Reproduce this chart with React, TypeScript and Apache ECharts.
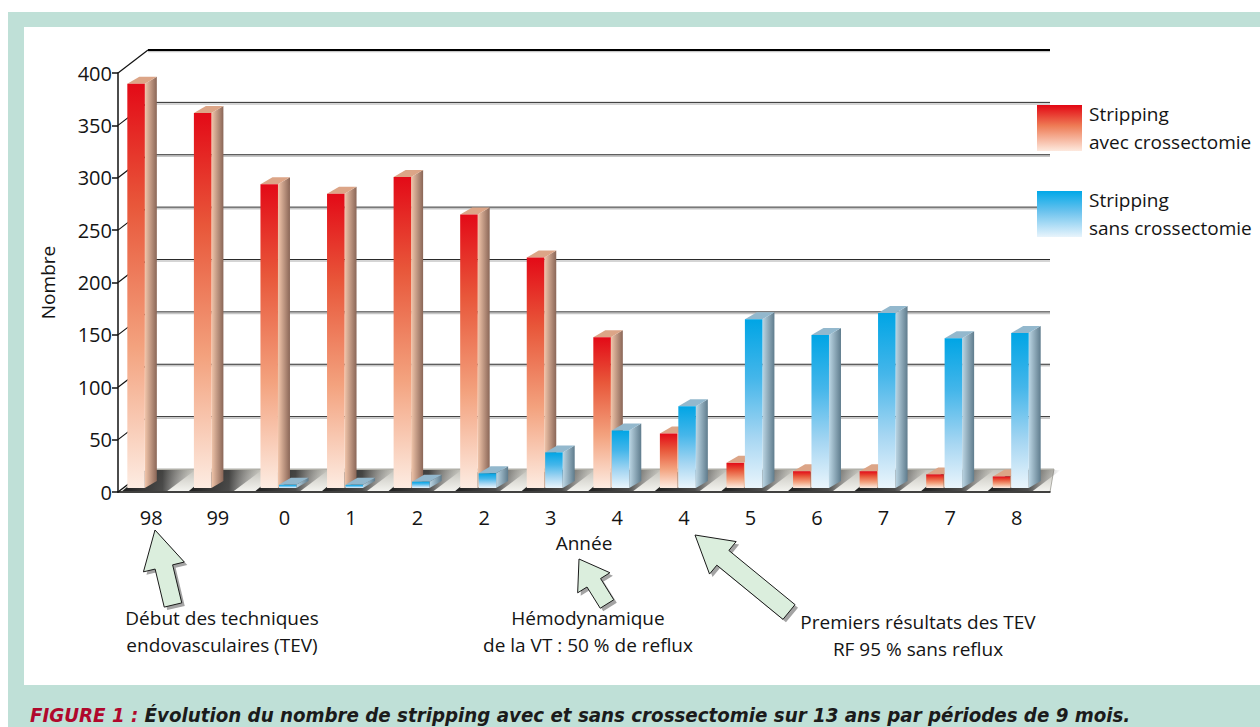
import React, { useEffect, useRef } from "react";
import * as echarts from "echarts";

// ---------- data ----------
const CATEGORIES = ["98", "99", "0", "1", "2", "2", "3", "4", "4", "5", "6", "7", "7", "8"];
const AVEC = [386, 358, 290, 281, 297, 261, 220, 144, 52, 24, 16, 16, 13, 11];
const SANS = [0, 0, 3, 3, 6, 14, 34, 55, 78, 161, 146, 167, 143, 148];
const Y_TICKS = [0, 50, 100, 150, 200, 250, 300, 350, 400];
const SERIES_NAMES = ["Stripping\navec crossectomie", "Stripping\nsans crossectomie"];
const CAPTION_LEAD = "FIGURE 1 :";
const CAPTION_TEXT = " Évolution du nombre de stripping avec et sans crossectomie sur 13 ans par périodes de 9 mois.";

// ---------- style / layout ----------
const FONT = "'Open Sans', 'Noto Sans', sans-serif";
const CAPTION_FONT = "'Liberation Sans Narrow', 'DejaVu Sans Condensed', 'Open Sans', sans-serif";
const INK = "#141414";
const DEPTH_X = 30;
const DEPTH_Y = 23;
const BAR_DX = 12;
const BAR_DY = 7;
const LIFT = 4;
const FACE_FRAC = 0.263;
const RED_OFF = -0.36;
const BLUE_OFF = -0.083;

const lin = (x2: number, y2: number, stops: [number, string][]) =>
  new echarts.graphic.LinearGradient(0, 0, x2, y2, stops.map(([offset, color]) => ({ offset, color })));

const redFront = lin(0, 1, [[0, "#e30a17"], [0.3, "#e8573a"], [0.65, "#f3a27e"], [1, "#fdece2"]]);
const redSide = lin(1, 0, [[0, "#f2c6ab"], [1, "#8a6657"]]);
const redTop = "#dca587";
const blueFront = lin(0, 1, [[0, "#00a5e5"], [0.35, "#45b6ea"], [0.7, "#a6d6f2"], [1, "#eaf5fc"]]);
const blueSide = lin(1, 0, [[0, "#bcd6e4"], [1, "#5f7c8d"]]);
const blueTop = "#93b8cd";
const floorGrad = lin(0, 1, [[0, "#c2c1b9"], [0.5, "#dcdbd5"], [1, "#f5f5f1"]]);
const shadowGrad = lin(1, 0, [[0, "rgba(20,20,20,0.95)"], [0.55, "rgba(35,35,35,0.8)"], [1, "rgba(90,90,90,0)"]]);
const legendRed = lin(0, 1, [[0, "#e30613"], [0.45, "#ee7b55"], [1, "#fde9de"]]);
const legendBlue = lin(0, 1, [[0, "#00a8e8"], [0.45, "#6cc3ee"], [1, "#e8f4fc"]]);

const makeBarRender = (offFrac: number, front: any, side: any, topFill: string) => (params: any, api: any) => {
  const i = api.value(0);
  const v = api.value(1);
  if (!(v > 0)) return null;
  const base = api.coord([i, 0]);
  const topP = api.coord([i, v]);
  const bw = api.size([1, 0])[0];
  const x = base[0] + offFrac * bw;
  const w = FACE_FRAC * bw;
  const y0 = base[1] - LIFT;
  const y1 = topP[1] - LIFT;
  return {
    type: "group",
    children: [
      {
        type: "polygon",
        shape: { points: [[x + w, y1], [x + w + BAR_DX, y1 - BAR_DY], [x + w + BAR_DX, y0 - BAR_DY], [x + w, y0]] },
        style: { fill: side },
      },
      {
        type: "polygon",
        shape: { points: [[x, y1], [x + BAR_DX, y1 - BAR_DY], [x + w + BAR_DX, y1 - BAR_DY], [x + w, y1]] },
        style: { fill: topFill },
      },
      { type: "rect", shape: { x, y: y1, width: w, height: y0 - y1 }, style: { fill: front } },
    ],
  };
};

const renderShadow = (params: any, api: any) => {
  const i = api.value(0);
  const base = api.coord([i, 0]);
  const bw = api.size([1, 0])[0];
  const xL = base[0] + RED_OFF * bw;
  const y0 = base[1] - 1;
  const yb = base[1] - DEPTH_Y + 1;
  return {
    type: "polygon",
    shape: { points: [[xL - 5, y0], [xL + 20, yb], [xL + 68, yb], [xL + 40, y0]] },
    style: { fill: shadowGrad },
  };
};

// back-wall grid lines and floor, placed from the value scale
const renderWall = (params: any, api: any) => {
  const v = api.value(1);
  const p = api.coord([0, v]);
  const bw = api.size([1, 0])[0];
  const xL = p[0] - bw / 2;
  const xR = xL + bw * CATEGORIES.length;
  const y = p[1];
  const isTop = v === Y_TICKS[Y_TICKS.length - 1];
  if (v === 0) {
    return {
      type: "polygon",
      shape: { points: [[xL, y], [xR, y], [xR + 4, y - DEPTH_Y], [xL + DEPTH_X, y - DEPTH_Y]] },
      style: { fill: floorGrad, stroke: "#9a9992", lineWidth: 0.8 },
    };
  }
  return {
    type: "group",
    children: [
      {
        type: "polyline",
        shape: { points: [[xL + DEPTH_X, y - DEPTH_Y + 1.5], [xR, y - DEPTH_Y + 1.5]] },
        style: { stroke: "rgba(0,0,0,0.22)", lineWidth: 1.5, fill: null },
      },
      {
        type: "polyline",
        shape: { points: [[xL + DEPTH_X, y - DEPTH_Y], [xR, y - DEPTH_Y]] },
        style: { stroke: isTop ? "#000" : "#2a2a2a", lineWidth: isTop ? 2 : 1, fill: null },
      },
    ],
  };
};

function arrowPts(tip: number[], tail: number[], headL: number, headW: number, shaftW: number) {
  const dx = tip[0] - tail[0];
  const dy = tip[1] - tail[1];
  const L = Math.hypot(dx, dy);
  const ux = dx / L, uy = dy / L;
  const nx = -uy, ny = ux;
  const hx = tip[0] - ux * headL, hy = tip[1] - uy * headL;
  return [
    tip,
    [hx + (nx * headW) / 2, hy + (ny * headW) / 2],
    [hx + (nx * shaftW) / 2, hy + (ny * shaftW) / 2],
    [tail[0] + (nx * shaftW) / 2, tail[1] + (ny * shaftW) / 2],
    [tail[0] - (nx * shaftW) / 2, tail[1] - (ny * shaftW) / 2],
    [hx - (nx * shaftW) / 2, hy - (ny * shaftW) / 2],
    [hx - (nx * headW) / 2, hy - (ny * headW) / 2],
  ];
}

const ARROWS = [
  { tip: [155, 530], tail: [173, 605], headL: 38, headW: 42, shaftW: 18 },
  { tip: [579, 559], tail: [607, 604], headL: 28, headW: 38, shaftW: 16 },
  { tip: [695, 535], tail: [789, 612], headL: 36, headW: 42, shaftW: 19 },
];

const NOTES = [
  { text: "Début des techniques\nendovasculaires (TEV)", x: 222, y: 631 },
  { text: "Hémodynamique\nde la VT : 50 % de reflux", x: 588, y: 631 },
  { text: "Premiers résultats des TEV\nRF 95 % sans reflux", x: 918, y: 635 },
];

function buildGraphics(chart: any) {
  const g: any[] = [];
  // side-wall diagonals at each tick, positioned through the chart's own scales
  Y_TICKS.forEach((v) => {
    const p = chart.convertToPixel({ gridIndex: 0 }, [0, v]);
    const bw = Math.abs(chart.convertToPixel({ gridIndex: 0 }, [1, v])[0] - p[0]);
    const xL = p[0] - bw / 2;
    g.push({
      type: "line",
      z: 1,
      silent: true,
      shape: { x1: xL, y1: p[1], x2: xL + DEPTH_X, y2: p[1] - DEPTH_Y },
      style: { stroke: "#111", lineWidth: 1.2 },
    });
  });
  ARROWS.forEach((a) => {
    const pts = arrowPts(a.tip, a.tail, a.headL, a.headW, a.shaftW);
    g.push({ type: "polygon", x: 3, y: 3, z: 10, shape: { points: pts }, style: { fill: "#a3a3a3" } });
    g.push({
      type: "polygon",
      z: 11,
      shape: { points: pts },
      style: { fill: "#dbeedd", stroke: "#1a1a1a", lineWidth: 1 },
    });
  });
  NOTES.forEach((n) => {
    g.push({
      type: "text",
      z: 11,
      style: {
        text: n.text,
        x: n.x,
        y: n.y,
        fill: INK,
        fontSize: 19,
        fontFamily: FONT,
        lineHeight: 27,
        align: "center",
        verticalAlign: "middle",
      },
    });
  });
  return g;
}

export default function App() {
  const ref = useRef<HTMLDivElement>(null);
  useEffect(() => {
    const chart = echarts.init(ref.current!, undefined, { renderer: "svg" });
    const option: any = {
      animation: false,
      title: {
        text: `{a|${CAPTION_LEAD}}{b|${CAPTION_TEXT}}`,
        left: 25,
        top: 700,
        textStyle: {
          rich: {
            a: { color: "#b0082c", fontSize: 20.3, fontWeight: "bold", fontStyle: "italic", fontFamily: CAPTION_FONT },
            b: { color: "#1b1b1b", fontSize: 20.3, fontWeight: "bold", fontStyle: "italic", fontFamily: CAPTION_FONT },
          },
        },
      },
      legend: {
        data: SERIES_NAMES,
        orient: "vertical",
        left: 1032,
        top: 95,
        itemWidth: 45,
        itemHeight: 46,
        itemGap: 30,
        icon: "rect",
        selectedMode: false,
        textStyle: { color: INK, fontSize: 19, lineHeight: 28, fontFamily: FONT, padding: [0, 0, 0, 2] },
      },
      grid: { left: 118, top: 73, width: 932, height: 419 },
      xAxis: {
        type: "category",
        data: CATEGORIES,
        boundaryGap: true,
        z: 5,
        axisLine: { lineStyle: { color: "#111", width: 1.5 } },
        axisTick: { length: 7, lineStyle: { color: "#111", width: 1.5 } },
        axisLabel: { color: INK, fontSize: 20, fontFamily: FONT, margin: 15, interval: 0 },
        name: "Année",
        nameLocation: "middle",
        nameGap: 41,
        nameTextStyle: { color: INK, fontSize: 19, fontFamily: FONT },
      },
      yAxis: {
        type: "value",
        min: 0,
        max: 400,
        interval: 50,
        z: 5,
        axisLine: { show: true, lineStyle: { color: "#111", width: 1.5 } },
        axisTick: { show: true, length: 6, lineStyle: { color: "#111", width: 1.5 } },
        axisLabel: { color: INK, fontSize: 20, fontFamily: FONT, margin: 6 },
        splitLine: { show: false },
        name: "Nombre",
        nameLocation: "middle",
        nameGap: 61,
        nameTextStyle: { color: INK, fontSize: 19, fontFamily: FONT },
      },
      series: [
        {
          type: "custom",
          silent: true,
          z: 1,
          clip: false,
          data: Y_TICKS.map((v) => [0, v]),
          renderItem: renderWall,
        },
        {
          type: "custom",
          silent: true,
          z: 1,
          data: AVEC.map((v, i) => [i, v]),
          renderItem: renderShadow,
        },
        {
          name: SERIES_NAMES[0],
          type: "custom",
          silent: true,
          z: 2,
          itemStyle: { color: legendRed },
          data: AVEC.map((v, i) => [i, v]),
          renderItem: makeBarRender(RED_OFF, redFront, redSide, redTop),
        },
        {
          name: SERIES_NAMES[1],
          type: "custom",
          silent: true,
          z: 3,
          itemStyle: { color: legendBlue },
          data: SANS.map((v, i) => [i, v]),
          renderItem: makeBarRender(BLUE_OFF, blueFront, blueSide, blueTop),
        },
      ],
    };
    chart.setOption(option);
    chart.setOption({ graphic: buildGraphics(chart) });
    return () => chart.dispose();
  }, []);
  return (
    <div style={{ position: "absolute", left: 0, top: 0, width: 1260, height: 727, background: "#fff", overflow: "hidden" }}>
      <div style={{ position: "absolute", left: 8, top: 12, right: 0, bottom: 0, background: "#bfe0d7" }} />
      <div style={{ position: "absolute", left: 24, top: 27, width: 1236, height: 658, background: "#fff" }} />
      <div ref={ref} style={{ position: "absolute", left: 0, top: 0, width: 1260, height: 727 }} />
    </div>
  );
}
